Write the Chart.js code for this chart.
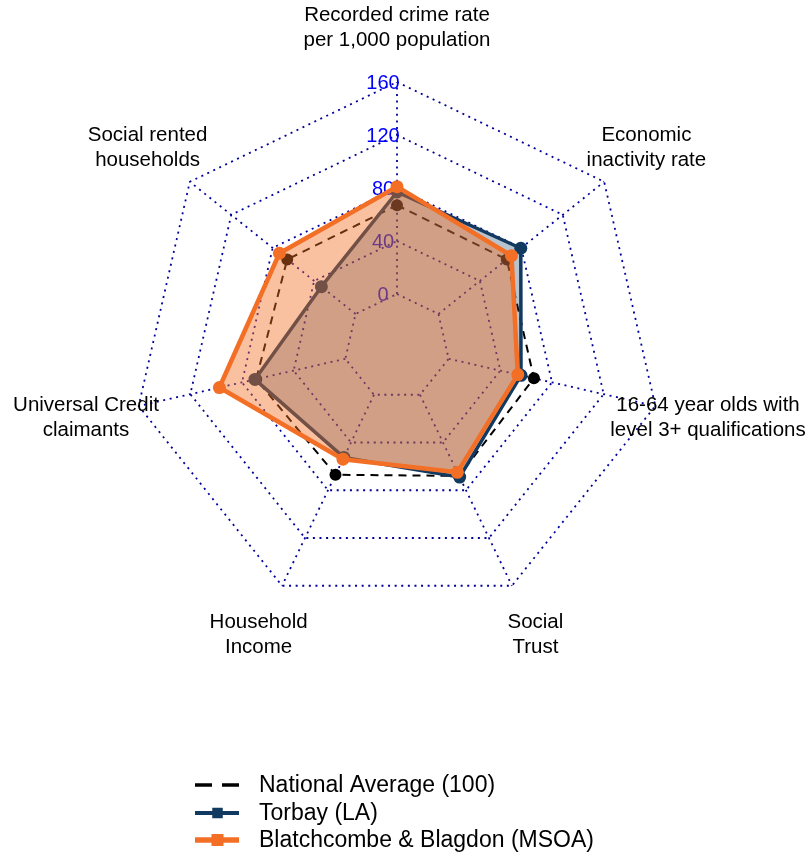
<!DOCTYPE html>
<html>
<head>
<meta charset="utf-8">
<script src="https://cdn.jsdelivr.net/npm/chart.js@4.4.1/dist/chart.umd.min.js"></script>
<style>
  html, body { margin: 0; padding: 0; background: #fff; }
  canvas { display: block; }
</style>
</head>
<body>
<canvas id="radar" width="808" height="854"></canvas>
<script>
// axis labels, clockwise from the top
const categories = [
  ['Recorded crime rate', 'per 1,000 population'],
  ['Economic', 'inactivity rate'],
  ['16-64 year olds with', 'level 3+ qualifications'],
  ['Social', 'Trust'],
  ['Household', 'Income'],
  ['Universal Credit', 'claimants'],
  ['Social rented', 'households'],
];

const nationalAverage = [67, 66, 66, 68, 67, 69, 66];
const torbay = [77, 79.5, 56, 69, 52.5, 70, 33];
const blatchcombe = [81, 70.5, 53.5, 65, 54, 97.5, 73.5];

const seriesNames = ['National Average (100)', 'Torbay (LA)', 'Blatchcombe & Blagdon (MSOA)'];

const tickValues = [-40, 0, 40, 80, 120, 160];
const tickLabels = ['', '0', '40', '80', '120', '160'];

const FONT = "'Liberation Sans', Arial, sans-serif";
const NAVY = '#12395f';
const ORANGE = '#f36f25';
const GRID = '#00009a';
const GRID_DASH = [2, 4.6];

// spokes run from the 0 ring out to the outer ring, then the tick numbers
const spokesAndTicksPlugin = {
  id: 'spokesAndTicks',
  beforeDatasetsDraw(chart) {
    const scale = chart.scales.r;
    const ctx = chart.ctx;
    ctx.save();
    ctx.strokeStyle = GRID;
    ctx.lineWidth = 1.8;
    ctx.setLineDash(GRID_DASH);
    const inner = scale.getDistanceFromCenterForValue(0);
    const outer = scale.getDistanceFromCenterForValue(scale.max);
    categories.forEach((c, i) => {
      const a = scale.getPointPosition(i, inner);
      const b = scale.getPointPosition(i, outer);
      ctx.beginPath();
      ctx.moveTo(a.x, a.y);
      ctx.lineTo(b.x, b.y);
      ctx.stroke();
    });
    ctx.setLineDash([]);

    ctx.font = '20px ' + FONT;
    ctx.fillStyle = '#0000ff';
    ctx.textAlign = 'center';
    ctx.textBaseline = 'middle';
    scale.ticks.forEach((t) => {
      const label = tickLabels[tickValues.indexOf(t.value)];
      if (!label) return;
      const d = scale.getDistanceFromCenterForValue(t.value);
      ctx.fillText(label, scale.xCenter - 14, scale.yCenter - d + 1);
    });
    ctx.restore();
  },
};

// category labels centred on a ring outside the grid
const pointLabelPlugin = {
  id: 'centredPointLabels',
  afterDatasetsDraw(chart) {
    const scale = chart.scales.r;
    const ctx = chart.ctx;
    ctx.save();
    ctx.font = '20.5px ' + FONT;
    ctx.fillStyle = '#000';
    ctx.textAlign = 'center';
    ctx.textBaseline = 'middle';
    categories.forEach((lines, i) => {
      const p = scale.getPointPosition(i, scale.drawingArea + 54);
      const lh = 25;
      const y0 = p.y - (lines.length - 1) * lh / 2;
      lines.forEach((txt, j) => ctx.fillText(txt, p.x, y0 + j * lh));
    });
    ctx.restore();
  },
};

const bottomLegendPlugin = {
  id: 'bottomLegend',
  afterDraw(chart) {
    const ctx = chart.ctx;
    const rows = [785, 813, 840];
    ctx.save();
    ctx.font = '23px ' + FONT;
    ctx.textBaseline = 'middle';
    chart.data.datasets.forEach((ds, i) => {
      const y = rows[i];
      ctx.strokeStyle = ds.borderColor;
      ctx.lineCap = 'butt';
      if (i === 0) {
        ctx.lineWidth = 3.3;
        ctx.setLineDash([17, 10]);
        ctx.beginPath();
        ctx.moveTo(195, y);
        ctx.lineTo(239, y);
        ctx.stroke();
        ctx.setLineDash([]);
      } else {
        const sz = i === 1 ? 10.5 : 12;
        ctx.lineWidth = i === 1 ? 4 : 5.5;
        ctx.beginPath();
        ctx.moveTo(195, y);
        ctx.lineTo(239, y);
        ctx.stroke();
        ctx.fillStyle = ds.borderColor;
        ctx.fillRect(217.5 - sz / 2, y - sz / 2, sz, sz);
      }
      ctx.fillStyle = '#000';
      ctx.fillText(seriesNames[i], 259, y + 1);
    });
    ctx.restore();
  },
};

new Chart(document.getElementById('radar'), {
  type: 'radar',
  data: {
    labels: categories.map((c) => c.join(' ')),
    datasets: [
      {
        label: seriesNames[0],
        data: nationalAverage,
        borderColor: '#000',
        borderWidth: 2,
        borderDash: [8, 6],
        fill: false,
        backgroundColor: 'transparent',
        pointRadius: 6,
        pointBackgroundColor: '#000',
        pointBorderWidth: 0,
        order: 3,
      },
      {
        label: seriesNames[1],
        data: torbay,
        borderColor: NAVY,
        borderWidth: 3.5,
        borderJoinStyle: 'round',
        fill: 'start',
        backgroundColor: 'rgba(18, 57, 95, 0.3)',
        pointRadius: 6.5,
        pointBackgroundColor: NAVY,
        pointBorderWidth: 0,
        order: 2,
      },
      {
        label: seriesNames[2],
        data: blatchcombe,
        borderColor: ORANGE,
        borderWidth: 4.5,
        borderJoinStyle: 'round',
        fill: 'start',
        backgroundColor: 'rgba(243, 111, 37, 0.43)',
        pointRadius: 6.5,
        pointBackgroundColor: ORANGE,
        pointBorderWidth: 0,
        order: 1,
      },
    ],
  },
  options: {
    responsive: false,
    animation: false,
    devicePixelRatio: 1,
    layout: { padding: { left: 132, top: 82, right: 146, bottom: 242 } },
    plugins: {
      legend: { display: false },
      tooltip: { enabled: false },
    },
    elements: { line: { tension: 0 } },
    scales: {
      r: {
        min: tickValues[0],
        max: tickValues[tickValues.length - 1],
        afterBuildTicks: (s) => {
          s.ticks = tickValues.map((v) => ({ value: v }));
        },
        ticks: { display: false },
        grid: { color: GRID, lineWidth: 1.8 },
        border: { dash: GRID_DASH },
        angleLines: { display: false },
        pointLabels: { display: false },
      },
    },
  },
  plugins: [spokesAndTicksPlugin, pointLabelPlugin, bottomLegendPlugin],
});
</script>
</body>
</html>
